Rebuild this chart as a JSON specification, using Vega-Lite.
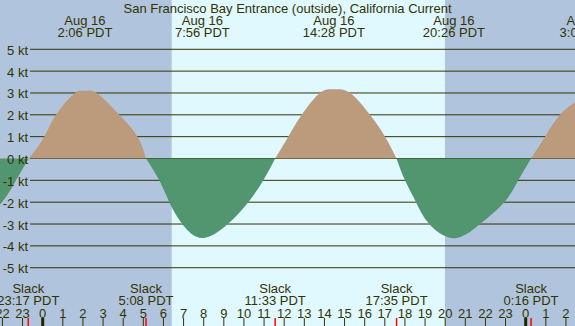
{
  "$schema": "https://vega.github.io/schema/vega-lite/v6.json",
  "width": 575,
  "height": 326,
  "autosize": {"type": "none"},
  "padding": 0,
  "background": "#B0C4DE",
  "config": {
    "view": {"stroke": null},
    "font": "Liberation Sans",
    "text": {"font": "Liberation Sans", "fontSize": 13, "color": "#333300", "baseline": "middle", "align": "center", "dy": 1.5}
  },
  "datasets": {
    "current": [
      {"h": -5.7, "v": -3.0, "lobe": "E0", "dir": "ebb"},
      {"h": -4.457, "v": -3.6, "lobe": "E0", "dir": "ebb"},
      {"h": -3.215, "v": -3.0, "lobe": "E0", "dir": "ebb"},
      {"h": -2.022, "v": -2.0, "lobe": "E0", "dir": "ebb"},
      {"h": -1.327, "v": -1.0, "lobe": "E0", "dir": "ebb"},
      {"h": -0.69, "v": 0, "lobe": "E0", "dir": "ebb"},
      {"h": -0.69, "v": 0, "lobe": "F1", "dir": "flood"},
      {"h": 0.08, "v": 1, "lobe": "F1", "dir": "flood"},
      {"h": 0.661, "v": 2, "lobe": "F1", "dir": "flood"},
      {"h": 1.605, "v": 3, "lobe": "F1", "dir": "flood"},
      {"h": 2.1, "v": 3.1, "lobe": "F1", "dir": "flood"},
      {"h": 2.683, "v": 3, "lobe": "F1", "dir": "flood"},
      {"h": 3.806, "v": 2, "lobe": "F1", "dir": "flood"},
      {"h": 4.711, "v": 1, "lobe": "F1", "dir": "flood"},
      {"h": 5.133, "v": 0, "lobe": "F1", "dir": "flood"},
      {"h": 5.133, "v": 0, "lobe": "E1", "dir": "ebb"},
      {"h": 5.794, "v": -1, "lobe": "E1", "dir": "ebb"},
      {"h": 6.291, "v": -2, "lobe": "E1", "dir": "ebb"},
      {"h": 6.937, "v": -3, "lobe": "E1", "dir": "ebb"},
      {"h": 7.933, "v": -3.64, "lobe": "E1", "dir": "ebb"},
      {"h": 9.193, "v": -3, "lobe": "E1", "dir": "ebb"},
      {"h": 10.216, "v": -2, "lobe": "E1", "dir": "ebb"},
      {"h": 10.961, "v": -1, "lobe": "E1", "dir": "ebb"},
      {"h": 11.55, "v": 0, "lobe": "E1", "dir": "ebb"},
      {"h": 11.55, "v": 0, "lobe": "F2", "dir": "flood"},
      {"h": 12.204, "v": 1, "lobe": "F2", "dir": "flood"},
      {"h": 12.87, "v": 2, "lobe": "F2", "dir": "flood"},
      {"h": 13.779, "v": 3, "lobe": "F2", "dir": "flood"},
      {"h": 14.467, "v": 3.17, "lobe": "F2", "dir": "flood"},
      {"h": 15.27, "v": 3, "lobe": "F2", "dir": "flood"},
      {"h": 16.263, "v": 2, "lobe": "F2", "dir": "flood"},
      {"h": 17.009, "v": 1, "lobe": "F2", "dir": "flood"},
      {"h": 17.583, "v": 0, "lobe": "F2", "dir": "flood"},
      {"h": 17.583, "v": 0, "lobe": "E2", "dir": "ebb"},
      {"h": 18.003, "v": -1, "lobe": "E2", "dir": "ebb"},
      {"h": 18.549, "v": -2, "lobe": "E2", "dir": "ebb"},
      {"h": 19.21, "v": -3, "lobe": "E2", "dir": "ebb"},
      {"h": 20.433, "v": -3.65, "lobe": "E2", "dir": "ebb"},
      {"h": 21.729, "v": -3, "lobe": "E2", "dir": "ebb"},
      {"h": 22.937, "v": -2, "lobe": "E2", "dir": "ebb"},
      {"h": 23.632, "v": -1, "lobe": "E2", "dir": "ebb"},
      {"h": 24.267, "v": 0, "lobe": "E2", "dir": "ebb"},
      {"h": 24.267, "v": 0, "lobe": "F3", "dir": "flood"},
      {"h": 24.959, "v": 1, "lobe": "F3", "dir": "flood"},
      {"h": 25.704, "v": 2, "lobe": "F3", "dir": "flood"},
      {"h": 26.449, "v": 2.58, "lobe": "F3", "dir": "flood"},
      {"h": 27.05, "v": 2.7, "lobe": "F3", "dir": "flood"},
      {"h": 28.2, "v": 2.4, "lobe": "F3", "dir": "flood"}
    ],
    "levels": [
      {"k": -5, "lab": "-5 kt"}, {"k": -4, "lab": "-4 kt"}, {"k": -3, "lab": "-3 kt"},
      {"k": -2, "lab": "-2 kt"}, {"k": -1, "lab": "-1 kt"}, {"k": 0, "lab": "0 kt"},
      {"k": 1, "lab": "1 kt"}, {"k": 2, "lab": "2 kt"}, {"k": 3, "lab": "3 kt"},
      {"k": 4, "lab": "4 kt"}, {"k": 5, "lab": "5 kt"}
    ],
    "hours": [
      {"h": -2, "lab": "22"}, {"h": -1, "lab": "23"}, {"h": 0, "lab": "0"}, {"h": 1, "lab": "1"},
      {"h": 2, "lab": "2"}, {"h": 3, "lab": "3"}, {"h": 4, "lab": "4"}, {"h": 5, "lab": "5"},
      {"h": 6, "lab": "6"}, {"h": 7, "lab": "7"}, {"h": 8, "lab": "8"}, {"h": 9, "lab": "9"},
      {"h": 10, "lab": "10"}, {"h": 11, "lab": "11"}, {"h": 12, "lab": "12"}, {"h": 13, "lab": "13"},
      {"h": 14, "lab": "14"}, {"h": 15, "lab": "15"}, {"h": 16, "lab": "16"}, {"h": 17, "lab": "17"},
      {"h": 18, "lab": "18"}, {"h": 19, "lab": "19"}, {"h": 20, "lab": "20"}, {"h": 21, "lab": "21"},
      {"h": 22, "lab": "22"}, {"h": 23, "lab": "23"}, {"h": 24, "lab": "0"}, {"h": 25, "lab": "1"},
      {"h": 26, "lab": "2"}
    ],
    "midnight": [{"h": 0}, {"h": 24}],
    "sun": [{"sunrise": 6.41, "sunset": 19.99}],
    "maxima": [
      {"h": 2.1, "d": "Aug 16", "t": "2:06 PDT"},
      {"h": 7.933, "d": "Aug 16", "t": "7:56 PDT"},
      {"h": 14.467, "d": "Aug 16", "t": "14:28 PDT"},
      {"h": 20.433, "d": "Aug 16", "t": "20:26 PDT"},
      {"h": 27.05, "d": "Aug 17", "t": "3:03 PDT"}
    ],
    "slack": [
      {"h": -0.717, "e": "Slack", "t": "23:17 PDT"},
      {"h": 5.133, "e": "Slack", "t": "5:08 PDT"},
      {"h": 11.55, "e": "Slack", "t": "11:33 PDT"},
      {"h": 17.583, "e": "Slack", "t": "17:35 PDT"},
      {"h": 24.267, "e": "Slack", "t": "0:16 PDT"}
    ],
    "heading": [{"title": "San Francisco Bay Entrance (outside), California Current"}]
  },
  "layer": [
    {
      "data": {"name": "sun"},
      "mark": {"type": "rect", "fill": "#E0F8FF"},
      "encoding": {
        "x": {
          "field": "sunrise", "type": "quantitative",
          "scale": {"domain": [-2.1218, 26.45], "nice": false, "zero": false},
          "axis": null
        },
        "x2": {"field": "sunset"}
      }
    },
    {
      "data": {"name": "levels"},
      "mark": {"type": "rule", "color": "#333300", "strokeWidth": 1},
      "encoding": {
        "y": {
          "field": "k", "type": "quantitative",
          "scale": {"domain": [-7.669, 7.257], "nice": false, "zero": false},
          "axis": null
        },
        "x": {"datum": -0.631, "axis": null},
        "x2": {"datum": 26.45}
      }
    },
    {
      "data": {"name": "current"},
      "mark": {"type": "area", "interpolate": "natural"},
      "encoding": {
        "x": {"field": "h", "type": "quantitative", "axis": null},
        "y": {"field": "v", "type": "quantitative", "axis": null},
        "y2": {"datum": 0},
        "color": {
          "field": "dir", "type": "nominal",
          "scale": {"domain": ["flood", "ebb"], "range": ["#BC9B7C", "#529670"]},
          "legend": null
        },
        "detail": {"field": "lobe"}
      }
    },
    {
      "data": {"name": "levels"},
      "mark": {"type": "text", "align": "right"},
      "encoding": {
        "x": {"datum": -0.73, "axis": null},
        "y": {"field": "k", "type": "quantitative", "axis": null},
        "text": {"field": "lab"}
      }
    },
    {
      "data": {"name": "hours"},
      "mark": {"type": "rule", "color": "#333300", "strokeWidth": 1},
      "encoding": {
        "x": {"field": "h", "type": "quantitative", "axis": null},
        "y": {"datum": -7.303, "axis": null},
        "y2": {"datum": -7.669}
      }
    },
    {
      "data": {"name": "midnight"},
      "mark": {"type": "rule", "color": "#222200", "strokeWidth": 3},
      "encoding": {
        "x": {"field": "h", "type": "quantitative", "axis": null},
        "y": {"datum": -7.303, "axis": null},
        "y2": {"datum": -7.669}
      }
    },
    {
      "data": {"name": "slack"},
      "mark": {"type": "rule", "color": "#FF0000", "strokeWidth": 1.5},
      "encoding": {
        "x": {"field": "h", "type": "quantitative", "axis": null},
        "y": {"datum": -7.303, "axis": null},
        "y2": {"datum": -7.669}
      }
    },
    {
      "data": {"name": "hours"},
      "mark": {"type": "text"},
      "encoding": {
        "x": {"field": "h", "type": "quantitative", "axis": null},
        "y": {"datum": -7.038, "axis": null},
        "text": {"field": "lab"}
      }
    },
    {
      "data": {"name": "maxima"},
      "mark": {"type": "text"},
      "encoding": {
        "x": {"field": "h", "type": "quantitative", "axis": null},
        "y": {"datum": 6.364, "axis": null},
        "text": {"field": "d"}
      }
    },
    {
      "data": {"name": "maxima"},
      "mark": {"type": "text"},
      "encoding": {
        "x": {"field": "h", "type": "quantitative", "axis": null},
        "y": {"datum": 5.824, "axis": null},
        "text": {"field": "t"}
      }
    },
    {
      "data": {"name": "slack"},
      "mark": {"type": "text"},
      "encoding": {
        "x": {"field": "h", "type": "quantitative", "axis": null},
        "y": {"datum": -5.884, "axis": null},
        "text": {"field": "e"}
      }
    },
    {
      "data": {"name": "slack"},
      "mark": {"type": "text"},
      "encoding": {
        "x": {"field": "h", "type": "quantitative", "axis": null},
        "y": {"datum": -6.433, "axis": null},
        "text": {"field": "t"}
      }
    },
    {
      "data": {"name": "heading"},
      "mark": {"type": "text"},
      "encoding": {
        "x": {"datum": 12.164, "axis": null},
        "y": {"datum": 6.927, "axis": null},
        "text": {"field": "title"}
      }
    }
  ]
}
